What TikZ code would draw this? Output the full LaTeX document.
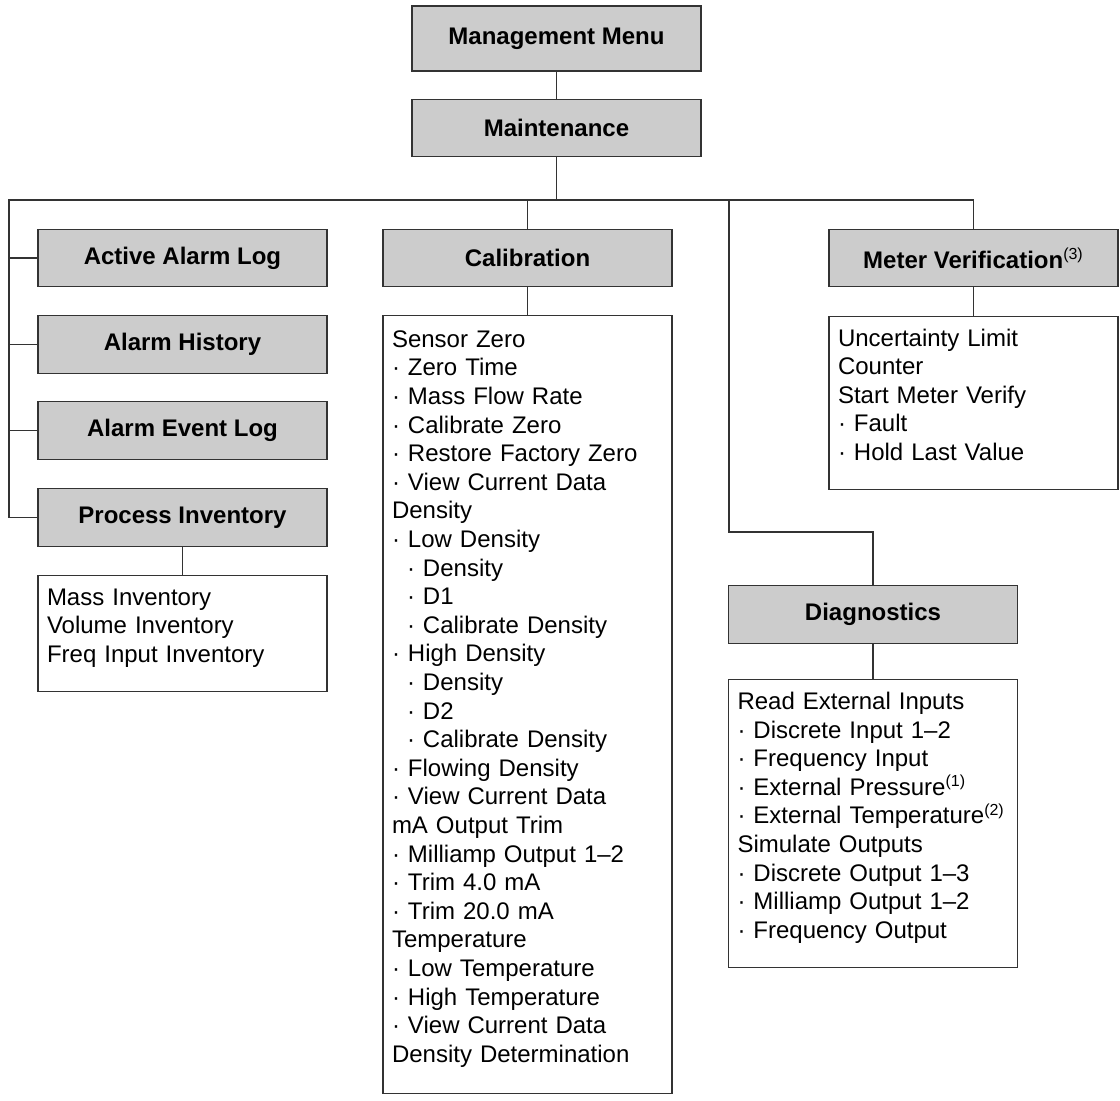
\documentclass[tikz,border=0pt]{standalone}
\usepackage{fontspec}
\setmainfont{Liberation Sans}
\usetikzlibrary{positioning,calc}
\definecolor{boxgray}{HTML}{CCCCCC}
\definecolor{edge}{HTML}{333333}
\newcommand{\topstrut}{\rule{0pt}{14.75pt}}
\newcommand{\botstrut}{\rule[-14.5pt]{0pt}{14.5pt}}
\newcommand{\subind}{\hspace*{7.5pt}}
\newcommand{\fnref}[1]{\textsuperscript{\mdseries(#1)}}
\tikzset{
  menubox/.style={rectangle, draw=edge, line width=0.6pt, fill=boxgray, minimum width=144.5pt, minimum height=28.75pt, inner sep=0pt, font=\bfseries\fontsize{12}{14.3}\selectfont},
  listbox/.style={rectangle, draw=edge, line width=0.6pt, fill=white, anchor=north, text width=135.5pt, inner xsep=4.5pt, inner ysep=0pt, align=left, font=\fontsize{12}{14.3}\selectfont},
  link/.style={draw=edge, line width=0.6pt}
}

\begin{document}
\begin{tikzpicture}[x=0.5pt, y=-0.5pt]
  \useasboundingbox (0,0) rectangle (1120,1101);

  % top of the menu tree
  \node[menubox, minimum height=32.5pt] (mgmt) at (556.5,38.5) {Management Menu};
  \node[menubox] (maint) at (556.5,128) {Maintenance};

  % left column
  \node[menubox] (alog) at (182.5,258) {Active Alarm Log};
  \node[menubox] (ahist) at (182.5,344.5) {Alarm History};
  \node[menubox] (aevt) at (182.5,430.5) {Alarm Event Log};
  \node[menubox] (pinv) at (182.5,517.5) {Process Inventory};
  \node[listbox, minimum height=57.5pt] (invlist) at (182.5,575) {\topstrut Mass Inventory\\
    Volume Inventory\\
    Freq Input Inventory\botstrut};

  % calibration
  \node[menubox] (calib) at (527.5,258) {Calibration};
  \node[listbox, minimum height=389pt] (caliblist) at (527.5,315) {\topstrut Sensor Zero\\
    · Zero Time\\
    · Mass Flow Rate\\
    · Calibrate Zero\\
    · Restore Factory Zero\\
    · View Current Data\\
    Density\\
    · Low Density\\
    \subind· Density\\
    \subind· D1\\
    \subind· Calibrate Density\\
    · High Density\\
    \subind· Density\\
    \subind· D2\\
    \subind· Calibrate Density\\
    · Flowing Density\\
    · View Current Data\\
    mA Output Trim\\
    · Milliamp Output 1–2\\
    · Trim 4.0 mA\\
    · Trim 20.0 mA\\
    Temperature\\
    · Low Temperature\\
    · High Temperature\\
    · View Current Data\\
    Density Determination\botstrut};

  % meter verification
  \node[menubox] (meter) at (973.5,258) {Meter Verification\fnref{3}};
  \node[listbox, minimum height=86pt] (meterlist) at (973.5,316) {\topstrut Uncertainty Limit\\
    Counter\\
    Start Meter Verify\\
    · Fault\\
    · Hold Last Value\botstrut};

  % diagnostics
  \node[menubox] (diag) at (873,614.5) {Diagnostics};
  \node[listbox, minimum height=144pt] (diaglist) at (873,679) {\topstrut Read External Inputs\\
    · Discrete Input 1–2\\
    · Frequency Input\\
    · External Pressure\fnref{1}\\
    · External Temperature\fnref{2}\\
    Simulate Outputs\\
    · Discrete Output 1–3\\
    · Milliamp Output 1–2\\
    · Frequency Output\botstrut};

  % connectors
  \coordinate (bus) at (556.5,200);
  \coordinate (busl) at (9,200);
  \coordinate (dbend) at (729,532);
  \draw[link] (mgmt) -- (maint);
  \draw[link] (maint.south) -- (bus);
  \draw[link] (pinv.west) -| (busl) -| (meter.north);
  \draw[link] (alog.west) -- (alog.west -| busl);
  \draw[link] (ahist.west) -- (ahist.west -| busl);
  \draw[link] (aevt.west) -- (aevt.west -| busl);
  \draw[link] (calib.north) -- (calib.north |- bus);
  \draw[link] (diag.north) |- (dbend) -- (dbend |- bus);
  \draw[link] (pinv) -- (invlist);
  \draw[link] (calib) -- (caliblist);
  \draw[link] (meter) -- (meterlist);
  \draw[link] (diag) -- (diaglist);
\end{tikzpicture}
\end{document}
